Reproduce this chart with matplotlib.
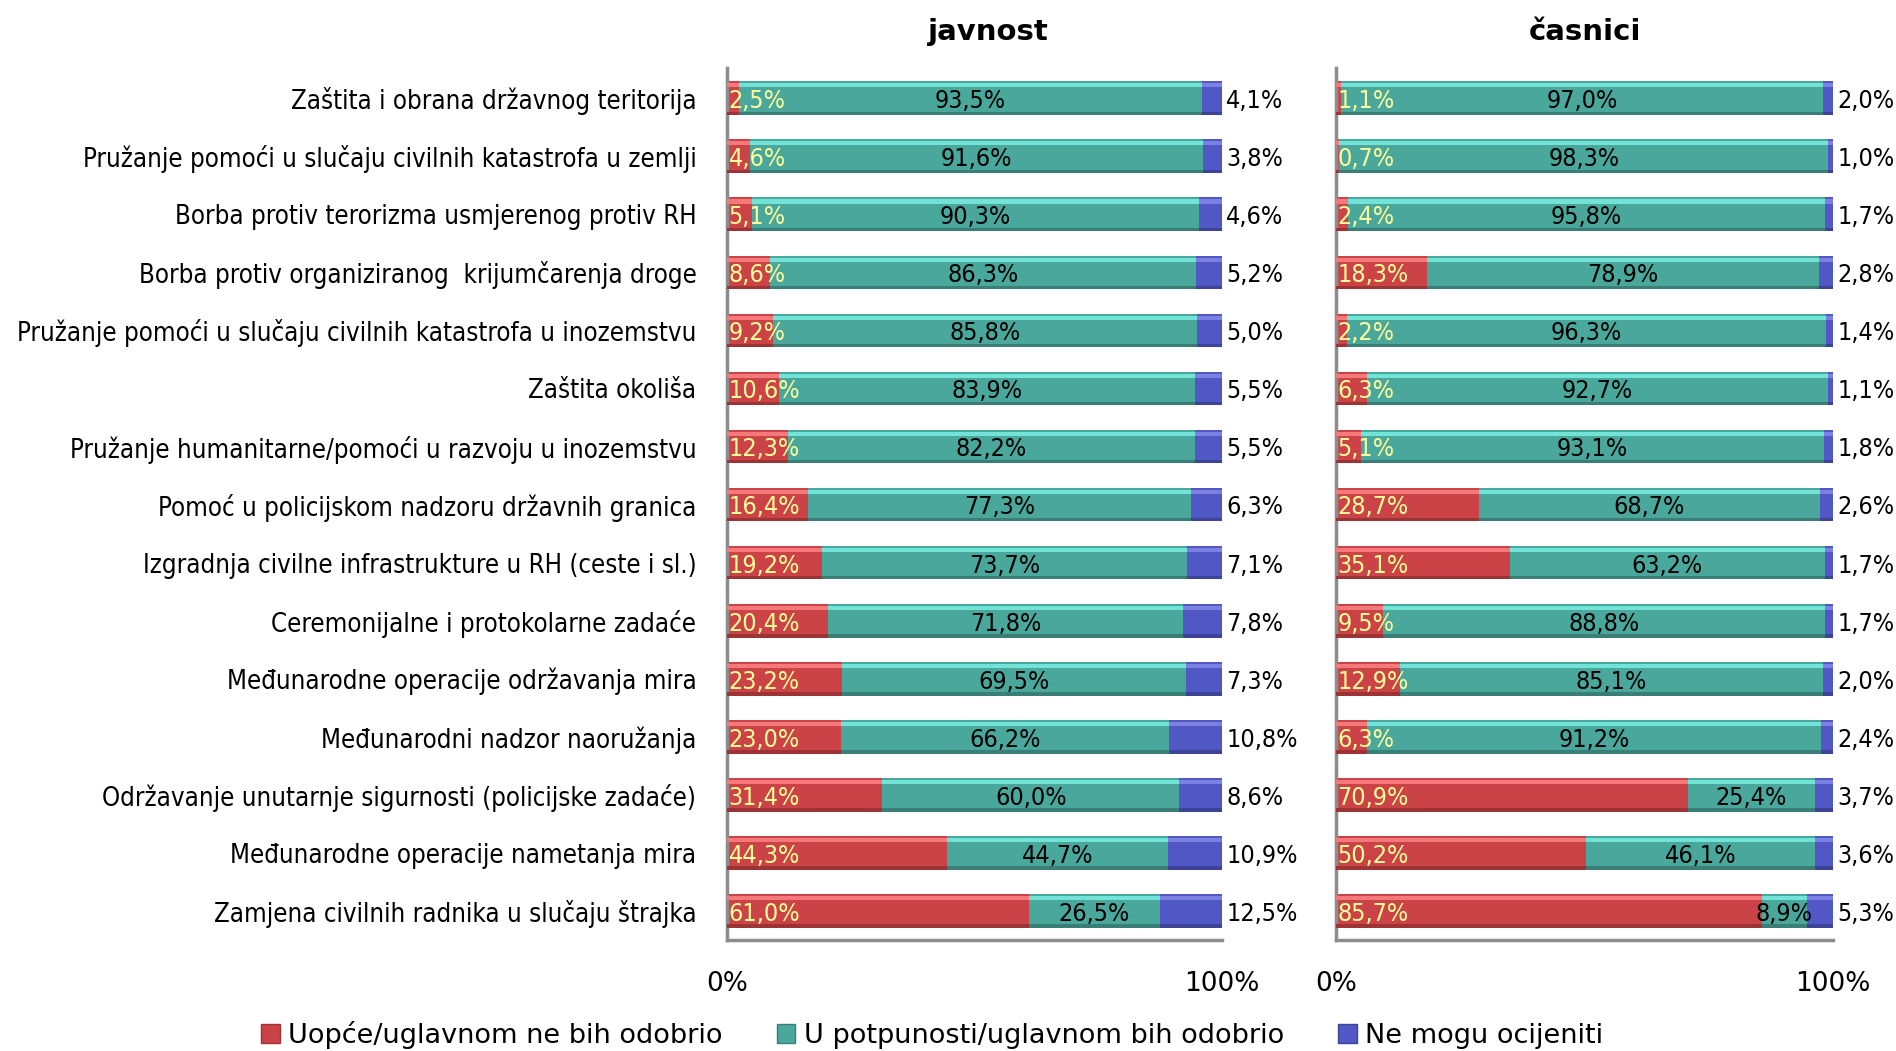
import numpy as np
import matplotlib.pyplot as plt
from matplotlib.patches import Patch
from matplotlib import font_manager

# podaci (postoci)
kategorije = [
    "Zaštita i obrana državnog teritorija",
    "Pružanje pomoći u slučaju civilnih katastrofa u zemlji",
    "Borba protiv terorizma usmjerenog protiv RH",
    "Borba protiv organiziranog  krijumčarenja droge",
    "Pružanje pomoći u slučaju civilnih katastrofa u inozemstvu",
    "Zaštita okoliša",
    "Pružanje humanitarne/pomoći u razvoju u inozemstvu",
    "Pomoć u policijskom nadzoru državnih granica",
    "Izgradnja civilne infrastrukture u RH (ceste i sl.)",
    "Ceremonijalne i protokolarne zadaće",
    "Međunarodne operacije održavanja mira",
    "Međunarodni nadzor naoružanja",
    "Održavanje unutarnje sigurnosti (policijske zadaće)",
    "Međunarodne operacije nametanja mira",
    "Zamjena civilnih radnika u slučaju štrajka",
]

javnost_ne = [2.5, 4.6, 5.1, 8.6, 9.2, 10.6, 12.3, 16.4, 19.2, 20.4, 23.2, 23.0, 31.4, 44.3, 61.0]
javnost_da = [93.5, 91.6, 90.3, 86.3, 85.8, 83.9, 82.2, 77.3, 73.7, 71.8, 69.5, 66.2, 60.0, 44.7, 26.5]
javnost_nm = [4.1, 3.8, 4.6, 5.2, 5.0, 5.5, 5.5, 6.3, 7.1, 7.8, 7.3, 10.8, 8.6, 10.9, 12.5]

casnici_ne = [1.1, 0.7, 2.4, 18.3, 2.2, 6.3, 5.1, 28.7, 35.1, 9.5, 12.9, 6.3, 70.9, 50.2, 85.7]
casnici_da = [97.0, 98.3, 95.8, 78.9, 96.3, 92.7, 93.1, 68.7, 63.2, 88.8, 85.1, 91.2, 25.4, 46.1, 8.9]
casnici_nm = [2.0, 1.0, 1.7, 2.8, 1.4, 1.1, 1.8, 2.6, 1.7, 1.7, 2.0, 2.4, 3.7, 3.6, 5.3]

naslovi = ["javnost", "časnici"]
legenda = ["Uopće/uglavnom ne bih odobrio", "U potpunosti/uglavnom bih odobrio", "Ne mogu ocijeniti"]

# boje: osnovna, svijetli rub, tamni rub
boje = [("#CC4347", "#F5787A", "#9E3336"),
        ("#49A79C", "#74E3D7", "#3A7F77"),
        ("#5158C6", "#7A81E0", "#3D4396")]

plt.rcParams['font.family'] = ['DejaVu Sans']

# uži font za kategorije ako postoji
cond = font_manager.FontProperties(family='DejaVu Sans', stretch='condensed')
try:
    cond_file = font_manager.findfont(cond, fallback_to_default=False)
except Exception:
    cond_file = None
if cond_file and 'Condensed' in cond_file:
    lab_font = dict(fontstretch='condensed')
    lab_size = 18.5
    val_size = 18
else:
    lab_font = {}
    lab_size = 17
    val_size = 16

fig = plt.figure(figsize=(18.96, 10.51), dpi=100)
ax1 = fig.add_axes([727 / 1896, 1 - 940 / 1051, 495 / 1896, 872 / 1051])
ax2 = fig.add_axes([1336 / 1896, 1 - 940 / 1051, 497 / 1896, 872 / 1051])

y = np.arange(len(kategorije))
h = 0.58


def crtaj(ax, ne, da, nm, naslov, labele, tx=0.5):
    ne = np.array(ne)
    da = np.array(da)
    nm = np.array(nm)
    tot = ne + da + nm
    segs = [ne / tot * 100, da / tot * 100, nm / tot * 100]
    left = np.zeros(len(y))
    for seg, (c, cl, cd) in zip(segs, boje):
        ax.barh(y, seg, left=left, height=h, color=c, edgecolor='none', zorder=2)
        # 3D efekt: svijetla traka gore, tamna dolje
        ax.barh(y - h / 2 + h * 0.12, seg, left=left, height=h * 0.12, color=cl, edgecolor='none', zorder=3)
        ax.barh(y + h / 2 - h * 0.05, seg, left=left, height=h * 0.1, color=cd, edgecolor='none', zorder=3)
        left = left + seg

    for i in range(len(y)):
        ax.text(0.3, y[i] + 0.05, f"{ne[i]:.1f}%".replace('.', ','), ha='left', va='center',
                color='#FFFF99', fontsize=val_size, zorder=5, **lab_font)
        ax.text(segs[0][i] + segs[1][i] / 2, y[i] + 0.05, f"{da[i]:.1f}%".replace('.', ','),
                ha='center', va='center', color='black', fontsize=val_size, zorder=5, **lab_font)
        ax.annotate(f"{nm[i]:.1f}%".replace('.', ','), xy=(100, y[i] + 0.05), xytext=(3, 0),
                    textcoords='offset points', ha='left', va='center', color='black',
                    fontsize=val_size, annotation_clip=False, **lab_font)

    ax.set_xlim(0, 100)
    ax.set_ylim(len(y) - 0.5, -0.52)
    ax.set_xticks([0, 100])
    ax.set_xticklabels(["0%", "100%"], fontsize=19)
    ax.tick_params(axis='x', length=0, pad=22)
    ax.tick_params(axis='y', length=0, pad=22)
    if labele:
        ax.set_yticks(y)
        ax.set_yticklabels(kategorije, fontsize=lab_size, **lab_font)
    else:
        ax.set_yticks([])
    for s in ['top', 'right']:
        ax.spines[s].set_visible(False)
    for s in ['left', 'bottom']:
        ax.spines[s].set_color('#8C8C8C')
        ax.spines[s].set_linewidth(2.5)
    ax.set_title(naslov, fontsize=21, fontweight='bold', pad=20, x=tx)


crtaj(ax1, javnost_ne, javnost_da, javnost_nm, naslovi[0], True, tx=0.527)
crtaj(ax2, casnici_ne, casnici_da, casnici_nm, naslovi[1], False)

handles = [Patch(facecolor=b[0], edgecolor=b[2]) for b in boje]
fig.legend(handles, legenda, loc='center', bbox_to_anchor=(932 / 1896, 1 - 1035 / 1051), ncol=3,
           frameon=False, fontsize=19.5, handlelength=0.7, handleheight=0.7, handletextpad=0.3,
           columnspacing=2.0)

fig.savefig("out.png", dpi=100)
